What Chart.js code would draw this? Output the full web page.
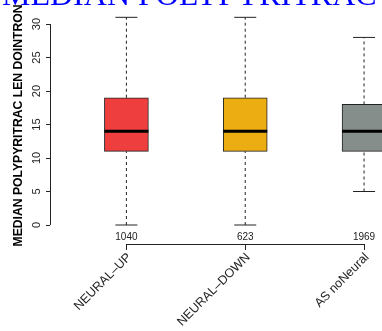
<!DOCTYPE html>
<html lang="en">
<head>
  <meta charset="UTF-8">
  <title>Median polypyritrac length</title>
  <script src="https://cdn.jsdelivr.net/npm/chart.js"></script>
  <style>
    body { margin: 0; background: #fff; }
    #wrap { width: 382px; height: 331px; }
  </style>
</head>
<body>
  <div id="wrap"><canvas id="grafico" width="382" height="331"></canvas></div>

  <script>
    // datos del boxplot
    const categorias = ['NEURAL–UP', 'NEURAL–DOWN', 'AS noNeural'];
    const conteos = ['1040', '623', '1969'];
    const minimos = [0, 0, 5];
    const q1 = [11, 11, 11];
    const medianas = [14, 14, 14];
    const q3 = [19, 19, 18];
    const maximos = [31, 31, 28];
    const colores = ['#ef3e3e', '#ebad12', '#858e8b'];
    const ticksY = [0, 5, 10, 15, 20, 25, 30];
    const titulo = 'MEDIAN POLYPYRITRAC LEN DOINTRON';

    Chart.defaults.font.family = '"Liberation Sans", Arial, sans-serif';
    const tinta = '#222';

    // cajas (q1 - q3)
    const cajas = categorias.map((c, i) => ({ x: i + 1, y: [q1[i], q3[i]] }));

    // bigotes con huecos entre segmentos
    const bigotes = [];
    categorias.forEach((c, i) => {
      bigotes.push({ x: i + 1, y: minimos[i] }, { x: i + 1, y: q1[i] }, { x: i + 1, y: null });
      bigotes.push({ x: i + 1, y: q3[i] }, { x: i + 1, y: maximos[i] }, { x: i + 1, y: null });
    });

    const topes = [];
    categorias.forEach((c, i) => {
      topes.push({ x: i + 1, y: minimos[i] }, { x: i + 1, y: maximos[i] });
    });

    const puntosMediana = categorias.map((c, i) => ({ x: i + 1, y: medianas[i] }));

    // quitar el relleno automatico de las escalas
    function sinRelleno(s) {
      s.paddingTop = 0;
      s.paddingBottom = 0;
      s.paddingLeft = 0;
      s.paddingRight = 0;
    }

    // ejes, linea de x, conteos y titulo
    const adorno = {
      id: 'adorno',
      afterDraw(chart) {
        const ctx = chart.ctx;
        const sx = chart.scales.x;
        const sy = chart.scales.y;
        const area = chart.chartArea;
        ctx.save();
        ctx.strokeStyle = tinta;
        ctx.lineWidth = 1;
        ctx.beginPath();
        ctx.moveTo(area.left + 0.5, sy.getPixelForValue(ticksY[0]));
        ctx.lineTo(area.left + 0.5, sy.getPixelForValue(ticksY[ticksY.length - 1]));
        ctx.moveTo(sx.getPixelForValue(1), area.bottom + 0.5);
        ctx.lineTo(sx.getPixelForValue(categorias.length), area.bottom + 0.5);
        ctx.stroke();

        ctx.fillStyle = tinta;
        ctx.font = '10px "Liberation Sans", Arial, sans-serif';
        ctx.textAlign = 'center';
        ctx.textBaseline = 'middle';
        conteos.forEach((n, i) => {
          ctx.fillText(n, sx.getPixelForValue(i + 1), area.bottom - 7);
        });

        ctx.fillStyle = '#0000ff';
        ctx.font = '32px "Liberation Serif", "DejaVu Serif", serif';
        ctx.textAlign = 'left';
        ctx.textBaseline = 'alphabetic';
        ctx.fillText(titulo, 2, 5);
        ctx.restore();
      }
    };

    const ctx = document.getElementById('grafico').getContext('2d');
    new Chart(ctx, {
      type: 'bar',
      data: {
        datasets: [
          {
            type: 'bar',
            data: cajas,
            backgroundColor: colores,
            borderColor: tinta,
            borderWidth: 1,
            borderSkipped: false,
            barThickness: 44,
            order: 3
          },
          {
            type: 'line',
            data: bigotes,
            borderColor: tinta,
            borderWidth: 1,
            borderDash: [3, 3],
            pointRadius: 0,
            spanGaps: false,
            fill: false,
            order: 4
          },
          {
            type: 'scatter',
            data: topes,
            pointStyle: 'line',
            pointRadius: 11,
            borderColor: tinta,
            borderWidth: 1,
            order: 2
          },
          {
            type: 'scatter',
            data: puntosMediana,
            pointStyle: 'line',
            pointRadius: 22,
            borderColor: '#000',
            borderWidth: 3,
            order: 1
          }
        ]
      },
      options: {
        responsive: false,
        animation: false,
        layout: { padding: { top: 7, left: 0, right: 0, bottom: 0 }, autoPadding: false },
        plugins: {
          legend: { display: false },
          tooltip: { enabled: false }
        },
        scales: {
          x: {
            type: 'linear',
            min: 0.357,
            max: 3.151,
            offset: false,
            afterBuildTicks: s => { s.ticks = categorias.map((c, i) => ({ value: i + 1 })); },
            afterFit: s => { s.height = 87; sinRelleno(s); },
            border: { display: false },
            grid: { drawOnChartArea: false, offset: false, tickLength: 6, color: tinta },
            ticks: {
              autoSkip: false,
              minRotation: 45,
              maxRotation: 45,
              padding: 0,
              labelOffset: 3,
              color: tinta,
              font: { size: 12.5 },
              callback: (v, i) => categorias[i]
            }
          },
          y: {
            type: 'linear',
            min: -2.836,
            max: 32.54,
            afterBuildTicks: s => { s.ticks = ticksY.map(v => ({ value: v })); },
            afterFit: s => { s.width = 50; sinRelleno(s); },
            border: { display: false },
            grid: { drawOnChartArea: false, tickLength: 4, color: tinta },
            ticks: {
              minRotation: 90,
              maxRotation: 90,
              crossAlign: 'center',
              padding: 3,
              color: tinta,
              font: { size: 11 }
            },
            title: {
              display: true,
              text: titulo,
              color: '#000',
              font: { size: 12.2, weight: 'bold' },
              padding: { top: 11, bottom: 0 }
            }
          }
        }
      },
      plugins: [adorno]
    });
  </script>
</body>
</html>
